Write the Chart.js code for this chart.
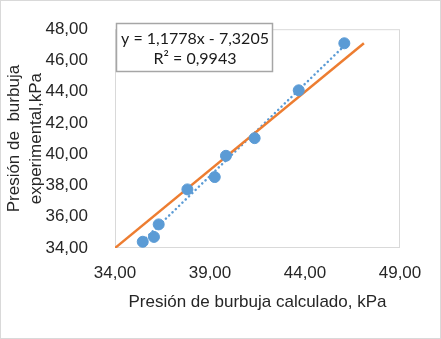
<!DOCTYPE html>
<html lang="es">
<head>
  <meta charset="UTF-8" />
  <title>Presión de burbuja</title>
  <style>
    body { margin: 0; background: #fff; }
    .wrap { width: 441px; height: 339px; }
  </style>
</head>
<body>
  <div class="wrap"><canvas id="chart" width="441" height="339"></canvas></div>

  <script src="https://cdn.jsdelivr.net/npm/chart.js@4"></script>
  <script>
    // Values
    const calcPressure = [35.46, 36.05, 36.30, 37.81, 39.25, 39.84, 41.35, 43.67, 46.07];
    const expPressure  = [34.40, 34.71, 35.51, 37.75, 38.54, 39.90, 41.03, 44.09, 47.10];
    const identityX = [34.0, 47.1];
    const identityY = [34.0, 47.1];
    const trendX = [35.46, 46.07];
    const trendY = [34.44, 46.94];
    const eqLines = ['y = 1,1778x - 7,3205', 'R² = 0,9943'];
    const xTitle = 'Presión de burbuja calculado, kPa';
    const yTitle = ['Presión de  burbuja', 'experimental,kPa'];

    const toPts = (xs, ys) => xs.map((x, i) => ({ x: x, y: ys[i] }));
    const fmt = v => v.toFixed(2).replace('.', ',');

    // plot frame, outer border and equation box
    const decor = {
      id: 'decor',
      beforeDatasetsDraw(chart) {
        const { ctx, chartArea: a } = chart;
        ctx.save();
        ctx.strokeStyle = '#d9d9d9';
        ctx.lineWidth = 1;
        ctx.strokeRect(a.left + 0.5, a.top + 0.5, a.right - a.left - 1, a.bottom - a.top - 1);
        ctx.restore();
      },
      afterDraw(chart) {
        const ctx = chart.ctx;
        ctx.save();
        ctx.strokeStyle = '#d9d9d9';
        ctx.lineWidth = 1;
        ctx.strokeRect(0.5, 0.5, chart.width - 1, chart.height - 1);
        // equation label
        ctx.fillStyle = '#fff';
        ctx.fillRect(116, 23, 157, 49);
        ctx.strokeStyle = '#a6a6a6';
        ctx.lineWidth = 1.5;
        ctx.strokeRect(116.5, 23.5, 156, 48);
        ctx.fillStyle = '#1a1a1a';
        ctx.font = '16px Lato';
        ctx.textAlign = 'center';
        ctx.textBaseline = 'middle';
        ctx.fillText(eqLines[0], 195, 39);
        ctx.fillText(eqLines[1], 195, 59);
        ctx.restore();
      }
    };

    new Chart(document.getElementById('chart'), {
      type: 'scatter',
      data: {
        datasets: [
          {
            label: 'Datos',
            data: toPts(calcPressure, expPressure),
            backgroundColor: '#5b9bd5',
            borderColor: '#5b9bd5',
            pointRadius: 5.5,
            order: 0
          },
          {
            label: 'y = x',
            data: toPts(identityX, identityY),
            showLine: true,
            borderColor: '#ed7d31',
            borderWidth: 2.5,
            pointRadius: 0,
            order: 1
          },
          {
            label: 'Lineal',
            data: toPts(trendX, trendY),
            showLine: true,
            borderColor: '#5b9bd5',
            borderWidth: 2.5,
            borderDash: [0.1, 4.5],
            borderCapStyle: 'round',
            pointRadius: 0,
            order: 2
          }
        ]
      },
      options: {
        responsive: false,
        animation: false,
        layout: { padding: { top: 23, right: 41, bottom: 26, left: 4 } },
        plugins: {
          legend: { display: false },
          tooltip: { enabled: false }
        },
        scales: {
          x: {
            type: 'linear',
            min: 34, max: 49,
            grid: { display: false },
            border: { display: false },
            ticks: { stepSize: 5, callback: fmt, color: '#262626', padding: 7,
                     font: { family: 'Liberation Sans', size: 17 } },
            title: { display: true, text: xTitle, color: '#262626', padding: 0,
                     font: { family: 'Liberation Sans', size: 17 } },
            afterFit(scale) { scale.height = 339 - 248 - 26; }
          },
          y: {
            type: 'linear',
            min: 34, max: 48,
            grid: { display: false },
            border: { display: false },
            ticks: { stepSize: 2, callback: fmt, color: '#262626', padding: 19,
                     font: { family: 'Liberation Sans', size: 17 } },
            title: { display: true, text: yTitle, color: '#262626', padding: 0,
                     font: { family: 'Liberation Sans', size: 17, lineHeight: 1.25 } },
            afterFit(scale) { scale.width = 115 - 4; }
          }
        }
      },
      plugins: [decor]
    });
  </script>
</body>
</html>
